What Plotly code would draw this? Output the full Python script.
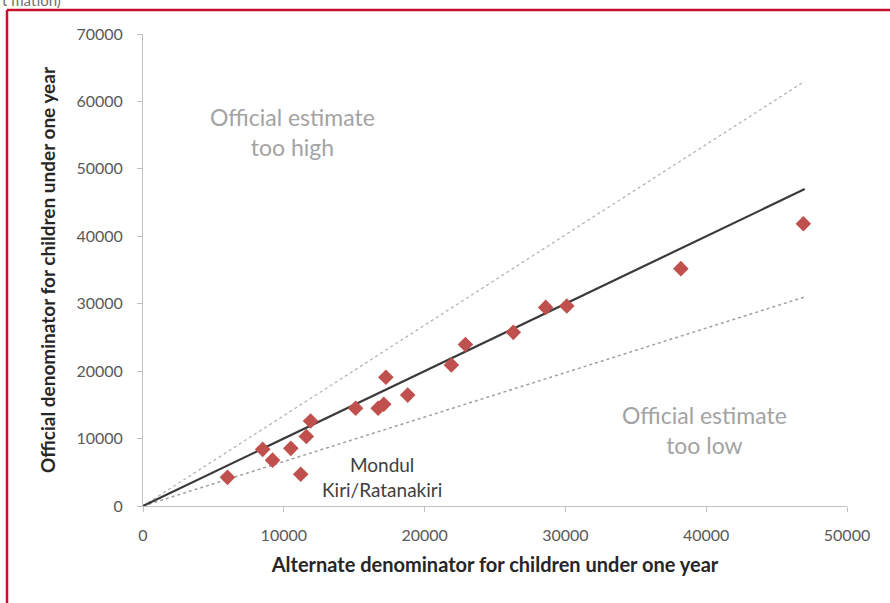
import plotly.graph_objects as go

# Alternate vs official denominators for children under one year, by province
alternate = [6000, 8500, 9200, 10500, 11200, 11600, 11900, 15100, 16700, 17100,
             17250, 18800, 21900, 22900, 26300, 28600, 30100, 38200, 46900]
official = [4250, 8400, 6800, 8550, 4700, 10300, 12600, 14500, 14500, 15100,
            19100, 16450, 20900, 23950, 25750, 29450, 29650, 35200, 41850]

# Reference lines: parity and +/- bands
ref_x = [0, 47000]
parity_y = [0, 47000]
upper_y = [0, 63000]
lower_y = [0, 31000]

x_ticks = [0, 10000, 20000, 30000, 40000, 50000]
y_ticks = [0, 10000, 20000, 30000, 40000, 50000, 60000, 70000]

FONT = "Lato, 'Open Sans', sans-serif"

fig = go.Figure()

fig.add_trace(go.Scatter(x=ref_x, y=upper_y, mode="lines",
                         line=dict(color="#b4b4b4", width=1.3, dash="dot"),
                         hoverinfo="skip"))
fig.add_trace(go.Scatter(x=ref_x, y=lower_y, mode="lines",
                         line=dict(color="#a0a0a0", width=1.5, dash="dot"),
                         hoverinfo="skip"))
fig.add_trace(go.Scatter(x=ref_x, y=parity_y, mode="lines",
                         line=dict(color="#3a3a3a", width=2.2),
                         hoverinfo="skip"))
fig.add_trace(go.Scatter(x=alternate, y=official, mode="markers",
                         marker=dict(symbol="diamond", size=12, color="#c0504d",
                                     line=dict(width=0))))

fig.update_xaxes(range=[0, 50000], tickvals=x_ticks, ticktext=[str(v) for v in x_ticks],
                 showgrid=False, zeroline=False, showline=True, linecolor="#c0c0c0",
                 linewidth=1, ticks="outside", ticklen=5, tickcolor="#c0c0c0",
                 ticklabelstandoff=10,
                 tickfont=dict(family=FONT, size=16, color="#595959"),
                 title=dict(text="<b>Alternate denominator for children under one year</b>",
                            font=dict(family=FONT, size=20, color="#262626"), standoff=14))
fig.update_yaxes(range=[0, 70000], tickvals=y_ticks, ticktext=[str(v) for v in y_ticks],
                 showgrid=False, zeroline=False, showline=True, linecolor="#c0c0c0",
                 linewidth=1, ticks="outside", ticklen=5, tickcolor="#c0c0c0",
                 ticklabelstandoff=11,
                 tickfont=dict(family=FONT, size=16, color="#595959"),
                 title=dict(text="<b>Official denominator for children under one year</b>",
                            font=dict(family=FONT, size=19, color="#262626"), standoff=15))

fig.add_annotation(x=10650, y=55400, text="Official estimate<br>too high", showarrow=False,
                   font=dict(family=FONT, size=23, color="#a3a3a3"), align="center")
fig.add_annotation(x=39900, y=11200, text="Official estimate<br>too low", showarrow=False,
                   font=dict(family=FONT, size=23, color="#a3a3a3"), align="center")
fig.add_annotation(x=17000, y=4350, text="Mondul<br>Kiri/Ratanakiri", showarrow=False,
                   font=dict(family=FONT, size=19, color="#404040"), align="center")

# Caption fragment at the very top and the red frame around the figure
fig.add_annotation(xref="paper", yref="paper", x=-143 / 704, y=1 + 34 / 472,
                   xanchor="left", yanchor="middle", text="t mation)", showarrow=False,
                   font=dict(family=FONT, size=15, color="#707070"))
fig.add_shape(type="line", xref="paper", yref="paper",
              x0=-136 / 704, x1=1 + 43 / 704, y0=1 + 24 / 472, y1=1 + 24 / 472,
              line=dict(color="#c8102e", width=2.5))
fig.add_shape(type="line", xref="paper", yref="paper",
              x0=-136 / 704, x1=-136 / 704, y0=1 + 24 / 472, y1=-97 / 472,
              line=dict(color="#c8102e", width=2.5))

fig.update_layout(width=890, height=603, showlegend=False,
                  margin=dict(l=143, r=43, t=34, b=97),
                  paper_bgcolor="white", plot_bgcolor="white")

fig.write_html("out.html")
